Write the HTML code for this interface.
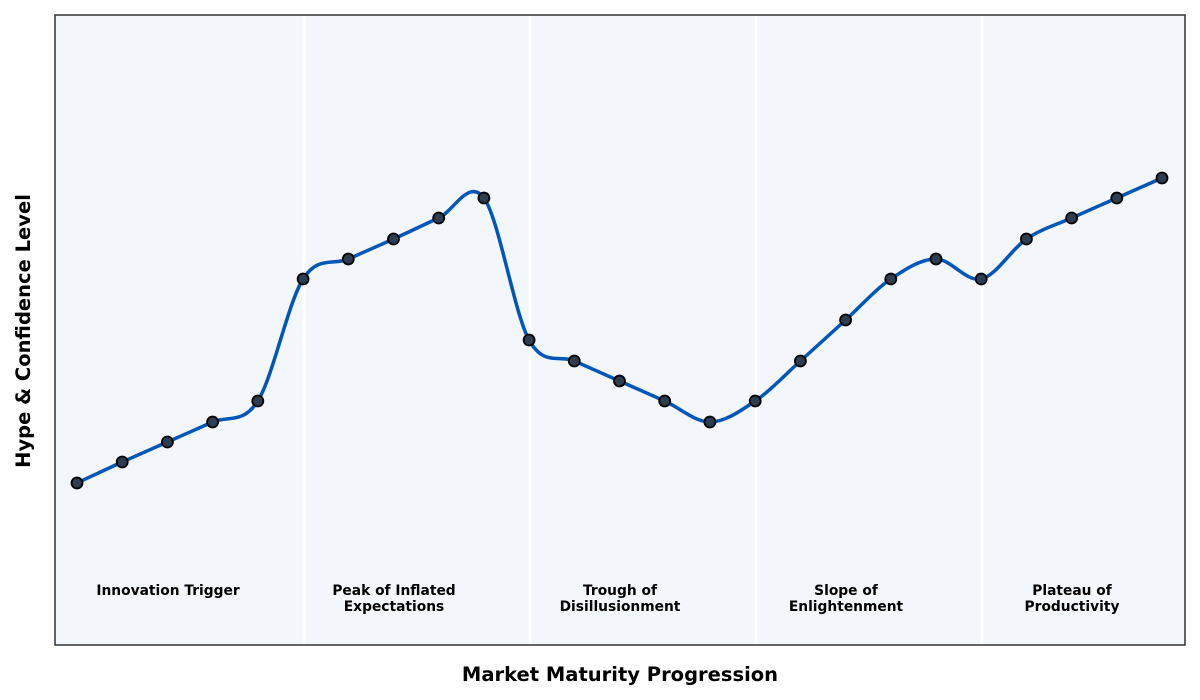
<!DOCTYPE html>
<html><head><meta charset="utf-8"><style>
html,body{margin:0;padding:0;background:#fff;}
svg{display:block;font-family:"DejaVu Sans","Liberation Sans",sans-serif;}
</style></head><body>
<svg width="1200" height="700" viewBox="0 0 1200 700" xmlns="http://www.w3.org/2000/svg">
<rect x="55" y="15" width="1130" height="630" fill="#f3f6fa"/>
<g stroke="#ffffff" stroke-width="3">
<line x1="304" y1="15" x2="304" y2="645"/>
<line x1="530" y1="15" x2="530" y2="645"/>
<line x1="756" y1="15" x2="756" y2="645"/>
<line x1="982" y1="15" x2="982" y2="645"/>
</g>
<rect x="55" y="15" width="1130" height="630" fill="none" stroke="#333" stroke-width="1.5"/>
<path fill="none" stroke="#0057b7" stroke-width="3.5" stroke-linecap="round" d="M77,483 C92.1,476 107.1,468.8 122.2,462 C137.3,455.2 152.3,448.7 167.4,442 C182.5,435.3 197.5,428.8 212.6,422 C227.7,415.2 242.7,424.8 257.8,401 C272.9,377.2 288,302.7 303.1,279 C318.2,255.3 333.2,265.7 348.3,259 C363.4,252.3 378.4,245.8 393.5,239 C408.6,232.2 423.6,224.8 438.7,218 C453.8,211.2 468.8,177.7 483.9,198 C499,218.3 514,312.8 529.1,340 C544.2,367.2 559.2,354.2 574.3,361 C589.4,367.8 604.4,374.3 619.5,381 C634.6,387.7 649.6,394.2 664.7,401 C679.8,407.8 694.8,422 709.9,422 C725,422 740.1,411.2 755.2,401 C770.3,390.8 785.3,374.5 800.4,361 C815.5,347.5 830.5,333.7 845.6,320 C860.7,306.3 875.7,289.2 890.8,279 C905.9,268.8 920.9,259 936,259 C951.1,259 966.1,282.3 981.2,279 C996.3,275.7 1011.3,249.2 1026.4,239 C1041.5,228.8 1056.5,224.8 1071.6,218 C1086.7,211.2 1101.7,204.7 1116.8,198 C1131.9,191.3 1146.9,184.7 1162,178"/>
<g fill="#2c3e50" stroke="#000" stroke-width="1.8">
<circle cx="77" cy="483" r="5.5"/><circle cx="122.2" cy="462" r="5.5"/><circle cx="167.4" cy="442" r="5.5"/><circle cx="212.6" cy="422" r="5.5"/><circle cx="257.8" cy="401" r="5.5"/><circle cx="303.1" cy="279" r="5.5"/><circle cx="348.3" cy="259" r="5.5"/><circle cx="393.5" cy="239" r="5.5"/><circle cx="438.7" cy="218" r="5.5"/><circle cx="483.9" cy="198" r="5.5"/><circle cx="529.1" cy="340" r="5.5"/><circle cx="574.3" cy="361" r="5.5"/><circle cx="619.5" cy="381" r="5.5"/><circle cx="664.7" cy="401" r="5.5"/><circle cx="709.9" cy="422" r="5.5"/><circle cx="755.2" cy="401" r="5.5"/><circle cx="800.4" cy="361" r="5.5"/><circle cx="845.6" cy="320" r="5.5"/><circle cx="890.8" cy="279" r="5.5"/><circle cx="936" cy="259" r="5.5"/><circle cx="981.2" cy="279" r="5.5"/><circle cx="1026.4" cy="239" r="5.5"/><circle cx="1071.6" cy="218" r="5.5"/><circle cx="1116.8" cy="198" r="5.5"/><circle cx="1162" cy="178" r="5.5"/>
</g>
<g font-size="13.8" font-weight="bold" fill="#000" text-anchor="middle">
<text x="168" y="595">Innovation Trigger</text>
<text x="394" y="595">Peak of Inflated</text><text x="394" y="611">Expectations</text>
<text x="620" y="595">Trough of</text><text x="620" y="611">Disillusionment</text>
<text x="846" y="595">Slope of</text><text x="846" y="611">Enlightenment</text>
<text x="1072" y="595">Plateau of</text><text x="1072" y="611">Productivity</text>
</g>
<text x="620" y="681" font-size="19.5" font-weight="bold" text-anchor="middle">Market Maturity Progression</text>
<text transform="translate(30,331) rotate(-90)" font-size="19.5" font-weight="bold" text-anchor="middle">Hype &amp; Confidence Level</text>
</svg>
</body></html>
